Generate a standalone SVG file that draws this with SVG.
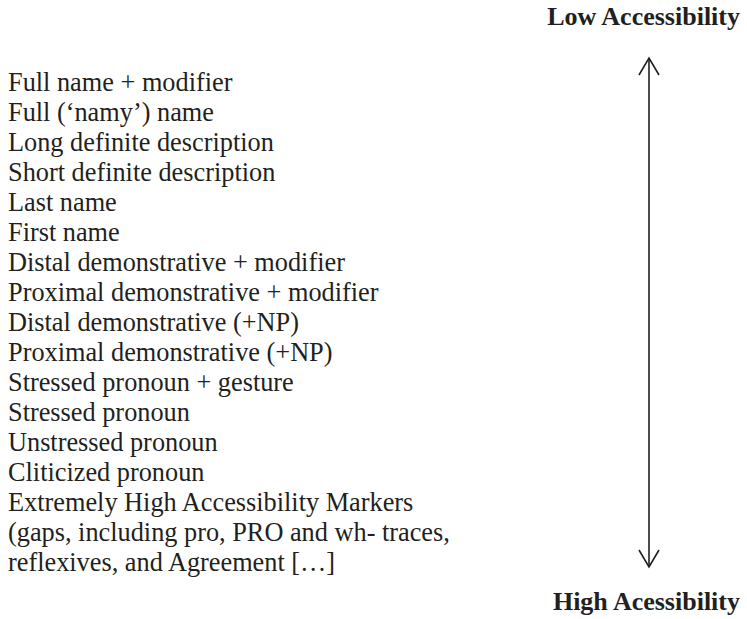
<svg xmlns="http://www.w3.org/2000/svg" width="747" height="619" viewBox="0 0 747 619">
<style>
.t{font-family:"Liberation Serif","Times New Roman",serif;font-size:26.3px;fill:#231f20}
.b{font-family:"Liberation Serif","Times New Roman",serif;font-size:26px;font-weight:bold;fill:#231f20;text-anchor:end}
.ln{stroke:#231f20;stroke-width:1.6;fill:none}
</style>
<rect width="747" height="619" fill="#fff"/>
<g id="list">
<text class="t" x="8" y="91">Full name + modifier</text>
<text class="t" x="8" y="121">Full (‘namy’) name</text>
<text class="t" x="8" y="151">Long definite description</text>
<text class="t" x="8" y="181">Short definite description</text>
<text class="t" x="8" y="211">Last name</text>
<text class="t" x="8" y="241">First name</text>
<text class="t" x="8" y="271">Distal demonstrative + modifier</text>
<text class="t" x="8" y="301">Proximal demonstrative + modifier</text>
<text class="t" x="8" y="331">Distal demonstrative (+NP)</text>
<text class="t" x="8" y="361">Proximal demonstrative (+NP)</text>
<text class="t" x="8" y="391">Stressed pronoun + gesture</text>
<text class="t" x="8" y="421">Stressed pronoun</text>
<text class="t" x="8" y="451">Unstressed pronoun</text>
<text class="t" x="8" y="481">Cliticized pronoun</text>
<text class="t" x="8" y="511">Extremely High Accessibility Markers</text>
<text class="t" x="8" y="541">(gaps, including pro, PRO and wh- traces,</text>
<text class="t" x="8" y="571">reflexives, and Agreement […]</text>
</g>
<g id="low"><text class="b" x="740" y="25">Low Accessibility</text></g>
<g id="high"><text class="b" x="740" y="610">High Acessibility</text></g>
<g id="connectors">
<line class="ln" x1="649" y1="58" x2="649" y2="567"/>
<polyline class="ln" points="639,75 649,58 659,75"/>
<polyline class="ln" points="639,550 649,567 659,550"/>
</g>
</svg>
